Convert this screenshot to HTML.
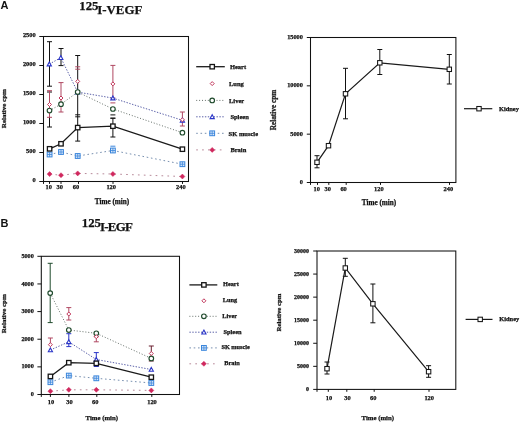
<!DOCTYPE html>
<html><head><meta charset="utf-8"><style>
html,body{margin:0;padding:0;background:#fff;}
body{width:520px;height:422px;overflow:hidden;}
svg{display:block;will-change:transform;}
text{font-family:"Liberation Serif",serif;font-weight:bold;fill:#111;stroke:#111;stroke-width:0.25;}
text.sans{font-family:"Liberation Sans",sans-serif;stroke-width:0;}
</style></head><body>
<svg width="520" height="422" viewBox="0 0 520 422">
<rect x="0" y="0" width="520" height="422" fill="#fff"/>
<rect x="43.5" y="36.5" width="145.00" height="145.00" fill="none" stroke="#111" stroke-width="1.05"/>
<line x1="39.3" y1="181.5" x2="43.5" y2="181.5" stroke="#111" stroke-width="1"/>
<text x="35.7" y="182.0" font-size="6.4" text-anchor="end">0</text>
<line x1="39.3" y1="152.5" x2="43.5" y2="152.5" stroke="#111" stroke-width="1"/>
<text x="35.7" y="153.0" font-size="6.4" text-anchor="end">500</text>
<line x1="39.3" y1="123.5" x2="43.5" y2="123.5" stroke="#111" stroke-width="1"/>
<text x="35.7" y="124.0" font-size="6.4" text-anchor="end">1000</text>
<line x1="39.3" y1="94.5" x2="43.5" y2="94.5" stroke="#111" stroke-width="1"/>
<text x="35.7" y="95.0" font-size="6.4" text-anchor="end">1500</text>
<line x1="39.3" y1="65.5" x2="43.5" y2="65.5" stroke="#111" stroke-width="1"/>
<text x="35.7" y="66.0" font-size="6.4" text-anchor="end">2000</text>
<line x1="39.3" y1="36.5" x2="43.5" y2="36.5" stroke="#111" stroke-width="1"/>
<text x="35.7" y="37.0" font-size="6.4" text-anchor="end">2500</text>
<line x1="49.5" y1="181.5" x2="49.5" y2="183.9" stroke="#111" stroke-width="1"/>
<text x="48.8" y="189.3" font-size="6.4" text-anchor="middle">10</text>
<line x1="61" y1="181.5" x2="61" y2="183.9" stroke="#111" stroke-width="1"/>
<text x="59.8" y="189.3" font-size="6.4" text-anchor="middle">30</text>
<line x1="78.5" y1="181.5" x2="78.5" y2="183.9" stroke="#111" stroke-width="1"/>
<text x="75.9" y="189.3" font-size="6.4" text-anchor="middle">60</text>
<line x1="113" y1="181.5" x2="113" y2="183.9" stroke="#111" stroke-width="1"/>
<text x="111.2" y="189.3" font-size="6.4" text-anchor="middle">120</text>
<line x1="182.5" y1="181.5" x2="182.5" y2="183.9" stroke="#111" stroke-width="1"/>
<text x="180.9" y="189.3" font-size="6.4" text-anchor="middle">240</text>
<line x1="43.5" y1="181.5" x2="43.5" y2="183.9" stroke="#111" stroke-width="1"/>
<text x="112" y="204.1" font-size="7.2" text-anchor="middle">Time (min)</text>
<text transform="translate(3.9,108.6) rotate(-90)" x="0" y="0" font-size="7" text-anchor="middle" dominant-baseline="central">Relative cpm</text>
<line x1="49.5" y1="41.7" x2="49.5" y2="86.2" stroke="#111" stroke-width="1"/>
<line x1="47.0" y1="41.7" x2="52.0" y2="41.7" stroke="#111" stroke-width="1"/>
<line x1="47.0" y1="86.2" x2="52.0" y2="86.2" stroke="#111" stroke-width="1"/>
<line x1="49.5" y1="92.0" x2="49.5" y2="127.0" stroke="#111" stroke-width="1"/>
<line x1="47.0" y1="92.0" x2="52.0" y2="92.0" stroke="#111" stroke-width="1"/>
<line x1="47.0" y1="127.0" x2="52.0" y2="127.0" stroke="#111" stroke-width="1"/>
<line x1="49.5" y1="90.7" x2="49.5" y2="117.3" stroke="#b04862" stroke-width="1"/>
<line x1="47.0" y1="90.7" x2="52.0" y2="90.7" stroke="#b04862" stroke-width="1"/>
<line x1="47.0" y1="117.3" x2="52.0" y2="117.3" stroke="#b04862" stroke-width="1"/>
<line x1="61.0" y1="48.5" x2="61.0" y2="65.6" stroke="#111" stroke-width="1"/>
<line x1="58.5" y1="48.5" x2="63.5" y2="48.5" stroke="#111" stroke-width="1"/>
<line x1="58.5" y1="65.6" x2="63.5" y2="65.6" stroke="#111" stroke-width="1"/>
<line x1="61.0" y1="82.6" x2="61.0" y2="112.0" stroke="#b04862" stroke-width="1"/>
<line x1="58.5" y1="82.6" x2="63.5" y2="82.6" stroke="#b04862" stroke-width="1"/>
<line x1="58.5" y1="112.0" x2="63.5" y2="112.0" stroke="#b04862" stroke-width="1"/>
<line x1="77.7" y1="55.5" x2="77.7" y2="141.1" stroke="#111" stroke-width="1"/>
<line x1="75.2" y1="55.5" x2="80.2" y2="55.5" stroke="#111" stroke-width="1"/>
<line x1="75.2" y1="141.1" x2="80.2" y2="141.1" stroke="#111" stroke-width="1"/>
<line x1="75.2" y1="66.8" x2="80.2" y2="66.8" stroke="#b04862" stroke-width="1"/>
<line x1="75.2" y1="69.2" x2="80.2" y2="69.2" stroke="#b04862" stroke-width="1"/>
<line x1="75.2" y1="114.8" x2="80.2" y2="114.8" stroke="#111" stroke-width="1"/>
<line x1="75.2" y1="116.8" x2="80.2" y2="116.8" stroke="#111" stroke-width="1"/>
<line x1="112.9" y1="65.4" x2="112.9" y2="98" stroke="#b04862" stroke-width="1"/>
<line x1="110.4" y1="65.4" x2="115.4" y2="65.4" stroke="#b04862" stroke-width="1"/>
<line x1="110.4" y1="98" x2="115.4" y2="98" stroke="#b04862" stroke-width="1"/>
<line x1="110.4" y1="102.9" x2="115.4" y2="102.9" stroke="#b04862" stroke-width="1"/>
<line x1="110.4" y1="114.9" x2="115.4" y2="114.9" stroke="#111" stroke-width="1"/>
<line x1="110.4" y1="118.2" x2="115.4" y2="118.2" stroke="#111" stroke-width="1"/>
<line x1="112.9" y1="118.2" x2="112.9" y2="137.0" stroke="#111" stroke-width="1"/>
<line x1="110.4" y1="118.2" x2="115.4" y2="118.2" stroke="#111" stroke-width="1"/>
<line x1="110.4" y1="137.0" x2="115.4" y2="137.0" stroke="#111" stroke-width="1"/>
<line x1="182.4" y1="112.0" x2="182.4" y2="126.0" stroke="#b04862" stroke-width="1"/>
<line x1="179.9" y1="112.0" x2="184.9" y2="112.0" stroke="#b04862" stroke-width="1"/>
<line x1="179.9" y1="126.0" x2="184.9" y2="126.0" stroke="#b04862" stroke-width="1"/>
<line x1="110.4" y1="146.2" x2="115.4" y2="146.2" stroke="#3a86dc" stroke-width="1"/>
<polyline points="49.6,174.1 61,175.2 77.7,173.4 112.9,174.0 182.4,176.5" fill="none" stroke="#b88a9a" stroke-width="1" stroke-dasharray="1.7 4.2"/>
<polyline points="49.6,154.5 61,152.0 77.7,156.0 112.9,150.5 182.4,164.2" fill="none" stroke="#7890b0" stroke-width="1" stroke-dasharray="1.6 2.7"/>
<polyline points="49.5,110.6 61,104.2 77.7,92.1 112.9,109.0 182.4,132.7" fill="none" stroke="#66706a" stroke-width="1" stroke-dasharray="1 1.9"/>
<polyline points="49.3,64.1 60.8,57.7 77.7,92.1 112.9,98.1 182.4,120.3" fill="none" stroke="#5a60a8" stroke-width="1" stroke-dasharray="1.4 1.5"/>
<polyline points="49.6,148.8 61,143.8 77.7,127.6 112.9,126.2 182.4,149.2" fill="none" stroke="#1a1a1a" stroke-width="1.3"/>
<polygon points="49.6,171.60 52.10,174.1 49.6,176.60 47.10,174.1" fill="#d0285e" stroke="#d0285e" stroke-width="0.5"/>
<polygon points="61,172.70 63.50,175.2 61,177.70 58.50,175.2" fill="#d0285e" stroke="#d0285e" stroke-width="0.5"/>
<polygon points="77.7,170.90 80.20,173.4 77.7,175.90 75.20,173.4" fill="#d0285e" stroke="#d0285e" stroke-width="0.5"/>
<polygon points="112.9,171.50 115.40,174.0 112.9,176.50 110.40,174.0" fill="#d0285e" stroke="#d0285e" stroke-width="0.5"/>
<polygon points="182.4,174.00 184.90,176.5 182.4,179.00 179.90,176.5" fill="#d0285e" stroke="#d0285e" stroke-width="0.5"/>
<rect x="47.20" y="152.10" width="4.80" height="4.80" fill="#dde8f8" stroke="#3a86dc" stroke-width="1"/>
<line x1="47.2" y1="154.5" x2="52.0" y2="154.5" stroke="#3a86dc" stroke-width="0.8"/>
<line x1="49.6" y1="152.1" x2="49.6" y2="156.9" stroke="#3a86dc" stroke-width="0.8"/>
<rect x="58.60" y="149.60" width="4.80" height="4.80" fill="#dde8f8" stroke="#3a86dc" stroke-width="1"/>
<line x1="58.6" y1="152.0" x2="63.4" y2="152.0" stroke="#3a86dc" stroke-width="0.8"/>
<line x1="61" y1="149.6" x2="61" y2="154.4" stroke="#3a86dc" stroke-width="0.8"/>
<rect x="75.30" y="153.60" width="4.80" height="4.80" fill="#dde8f8" stroke="#3a86dc" stroke-width="1"/>
<line x1="75.3" y1="156.0" x2="80.1" y2="156.0" stroke="#3a86dc" stroke-width="0.8"/>
<line x1="77.7" y1="153.6" x2="77.7" y2="158.4" stroke="#3a86dc" stroke-width="0.8"/>
<rect x="110.50" y="148.10" width="4.80" height="4.80" fill="#dde8f8" stroke="#3a86dc" stroke-width="1"/>
<line x1="110.5" y1="150.5" x2="115.3" y2="150.5" stroke="#3a86dc" stroke-width="0.8"/>
<line x1="112.9" y1="148.1" x2="112.9" y2="152.9" stroke="#3a86dc" stroke-width="0.8"/>
<rect x="180.00" y="161.80" width="4.80" height="4.80" fill="#dde8f8" stroke="#3a86dc" stroke-width="1"/>
<line x1="180.0" y1="164.2" x2="184.8" y2="164.2" stroke="#3a86dc" stroke-width="0.8"/>
<line x1="182.4" y1="161.8" x2="182.4" y2="166.6" stroke="#3a86dc" stroke-width="0.8"/>
<polygon points="49.3,62.00 51.40,65.88 47.20,65.88" fill="#fff" stroke="#2a35c8" stroke-width="1.1"/>
<polygon points="60.8,55.60 62.90,59.48 58.70,59.48" fill="#fff" stroke="#2a35c8" stroke-width="1.1"/>
<polygon points="77.7,90.00 79.80,93.88 75.60,93.88" fill="#fff" stroke="#2a35c8" stroke-width="1.1"/>
<polygon points="112.9,96.00 115.00,99.88 110.80,99.88" fill="#fff" stroke="#2a35c8" stroke-width="1.1"/>
<polygon points="182.4,118.20 184.50,122.08 180.30,122.08" fill="#fff" stroke="#2a35c8" stroke-width="1.1"/>
<circle cx="49.5" cy="110.6" r="2.30" fill="#fff" stroke="#1f4a2c" stroke-width="1.15"/>
<circle cx="61" cy="104.2" r="2.30" fill="#fff" stroke="#1f4a2c" stroke-width="1.15"/>
<circle cx="77.7" cy="92.1" r="2.30" fill="#fff" stroke="#1f4a2c" stroke-width="1.15"/>
<circle cx="112.9" cy="109.0" r="2.30" fill="#fff" stroke="#1f4a2c" stroke-width="1.15"/>
<circle cx="182.4" cy="132.7" r="2.30" fill="#fff" stroke="#1f4a2c" stroke-width="1.15"/>
<polygon points="49.5,102.50 51.50,104.5 49.5,106.50 47.50,104.5" fill="#fff" stroke="#c23a5e" stroke-width="1"/>
<polygon points="61,96.00 63.00,98.0 61,100.00 59.00,98.0" fill="#fff" stroke="#c23a5e" stroke-width="1"/>
<polygon points="77.7,79.40 79.70,81.4 77.7,83.40 75.70,81.4" fill="#fff" stroke="#c23a5e" stroke-width="1"/>
<polygon points="112.9,81.90 114.90,83.9 112.9,85.90 110.90,83.9" fill="#fff" stroke="#c23a5e" stroke-width="1"/>
<polygon points="182.4,117.80 184.40,119.8 182.4,121.80 180.40,119.8" fill="#fff" stroke="#c23a5e" stroke-width="1"/>
<rect x="47.40" y="146.60" width="4.40" height="4.40" fill="#fff" stroke="#151515" stroke-width="1.3"/>
<rect x="58.80" y="141.60" width="4.40" height="4.40" fill="#fff" stroke="#151515" stroke-width="1.3"/>
<rect x="75.50" y="125.40" width="4.40" height="4.40" fill="#fff" stroke="#151515" stroke-width="1.3"/>
<rect x="110.70" y="124.00" width="4.40" height="4.40" fill="#fff" stroke="#151515" stroke-width="1.3"/>
<rect x="180.20" y="147.00" width="4.40" height="4.40" fill="#fff" stroke="#151515" stroke-width="1.3"/>
<line x1="196.2" y1="66.7" x2="224.8" y2="66.7" stroke="#1a1a1a" stroke-width="1.3"/>
<rect x="210.00" y="64.50" width="4.40" height="4.40" fill="#fff" stroke="#151515" stroke-width="1.3"/>
<text x="229.9" y="69.05" font-size="6.5">Heart</text>
<polygon points="212.2,81.60 214.20,83.6 212.2,85.60 210.20,83.6" fill="#fff" stroke="#c23a5e" stroke-width="1"/>
<text x="229.0" y="85.95" font-size="6.5">Lung</text>
<line x1="196.2" y1="100.4" x2="224.8" y2="100.4" stroke="#66706a" stroke-width="1" stroke-dasharray="1 1.9"/>
<circle cx="212.2" cy="100.4" r="2.30" fill="#fff" stroke="#1f4a2c" stroke-width="1.15"/>
<text x="229.0" y="102.75" font-size="6.5">Liver</text>
<line x1="196.2" y1="116.8" x2="224.8" y2="116.8" stroke="#5a60a8" stroke-width="1" stroke-dasharray="1.4 1.5"/>
<polygon points="212.2,114.70 214.30,118.58 210.10,118.58" fill="#fff" stroke="#2a35c8" stroke-width="1.1"/>
<text x="230.4" y="119.15" font-size="6.5">Spleen</text>
<line x1="196.2" y1="133.3" x2="224.8" y2="133.3" stroke="#7890b0" stroke-width="1" stroke-dasharray="1.6 2.7"/>
<rect x="209.80" y="130.90" width="4.80" height="4.80" fill="#dde8f8" stroke="#3a86dc" stroke-width="1"/>
<line x1="209.8" y1="133.3" x2="214.6" y2="133.3" stroke="#3a86dc" stroke-width="0.8"/>
<line x1="212.2" y1="130.9" x2="212.2" y2="135.7" stroke="#3a86dc" stroke-width="0.8"/>
<text x="228.6" y="135.65" font-size="6.5">SK muscle</text>
<line x1="196.2" y1="149.9" x2="224.8" y2="149.9" stroke="#b88a9a" stroke-width="1" stroke-dasharray="1.7 4.2"/>
<polygon points="212.2,147.40 214.70,149.9 212.2,152.40 209.70,149.9" fill="#d0285e" stroke="#d0285e" stroke-width="0.5"/>
<text x="230.4" y="152.25" font-size="6.5">Brain</text>
<rect x="310.5" y="37.5" width="145.40" height="145.00" fill="none" stroke="#111" stroke-width="1.05"/>
<line x1="306.8" y1="182.5" x2="310.5" y2="182.5" stroke="#111" stroke-width="1"/>
<text x="302.9" y="184.1" font-size="6.3" text-anchor="end">0</text>
<line x1="306.8" y1="134.17" x2="310.5" y2="134.17" stroke="#111" stroke-width="1"/>
<text x="302.9" y="135.77" font-size="6.3" text-anchor="end">5000</text>
<line x1="306.8" y1="85.83" x2="310.5" y2="85.83" stroke="#111" stroke-width="1"/>
<text x="302.9" y="87.43" font-size="6.3" text-anchor="end">10000</text>
<line x1="306.8" y1="37.5" x2="310.5" y2="37.5" stroke="#111" stroke-width="1"/>
<text x="302.9" y="39.1" font-size="6.3" text-anchor="end">15000</text>
<line x1="317.5" y1="182.5" x2="317.5" y2="184.9" stroke="#111" stroke-width="1"/>
<text x="316.8" y="190.6" font-size="6.4" text-anchor="middle">10</text>
<line x1="328.8" y1="182.5" x2="328.8" y2="184.9" stroke="#111" stroke-width="1"/>
<text x="327.8" y="190.6" font-size="6.4" text-anchor="middle">30</text>
<line x1="346.2" y1="182.5" x2="346.2" y2="184.9" stroke="#111" stroke-width="1"/>
<text x="343.6" y="190.6" font-size="6.4" text-anchor="middle">60</text>
<line x1="380.5" y1="182.5" x2="380.5" y2="184.9" stroke="#111" stroke-width="1"/>
<text x="378.8" y="190.6" font-size="6.4" text-anchor="middle">120</text>
<line x1="449.5" y1="182.5" x2="449.5" y2="184.9" stroke="#111" stroke-width="1"/>
<text x="448.4" y="190.6" font-size="6.4" text-anchor="middle">240</text>
<line x1="310.5" y1="182.5" x2="310.5" y2="184.9" stroke="#111" stroke-width="1"/>
<text x="379" y="204.6" font-size="7.2" text-anchor="middle">Time (min)</text>
<text transform="translate(273.3,110) rotate(-90)" x="0" y="0" font-size="7.3" text-anchor="middle" dominant-baseline="central">Relative cpm</text>
<line x1="317" y1="155.7" x2="317" y2="167.8" stroke="#111" stroke-width="1"/>
<line x1="314.5" y1="155.7" x2="319.5" y2="155.7" stroke="#111" stroke-width="1"/>
<line x1="314.5" y1="167.8" x2="319.5" y2="167.8" stroke="#111" stroke-width="1"/>
<line x1="345.5" y1="68.3" x2="345.5" y2="118.8" stroke="#111" stroke-width="1"/>
<line x1="343.0" y1="68.3" x2="348.0" y2="68.3" stroke="#111" stroke-width="1"/>
<line x1="343.0" y1="118.8" x2="348.0" y2="118.8" stroke="#111" stroke-width="1"/>
<line x1="379.8" y1="49.5" x2="379.8" y2="74.5" stroke="#111" stroke-width="1"/>
<line x1="377.3" y1="49.5" x2="382.3" y2="49.5" stroke="#111" stroke-width="1"/>
<line x1="377.3" y1="74.5" x2="382.3" y2="74.5" stroke="#111" stroke-width="1"/>
<line x1="449.3" y1="54.5" x2="449.3" y2="84.0" stroke="#111" stroke-width="1"/>
<line x1="446.8" y1="54.5" x2="451.8" y2="54.5" stroke="#111" stroke-width="1"/>
<line x1="446.8" y1="84.0" x2="451.8" y2="84.0" stroke="#111" stroke-width="1"/>
<polyline points="317,162.3 328.5,145.7 345.5,93.8 379.8,62.8 449.3,69.3" fill="none" stroke="#1a1a1a" stroke-width="1.2"/>
<rect x="314.80" y="160.10" width="4.40" height="4.40" fill="#fff" stroke="#151515" stroke-width="1.05"/>
<rect x="326.30" y="143.50" width="4.40" height="4.40" fill="#fff" stroke="#151515" stroke-width="1.05"/>
<rect x="343.30" y="91.60" width="4.40" height="4.40" fill="#fff" stroke="#151515" stroke-width="1.05"/>
<rect x="377.60" y="60.60" width="4.40" height="4.40" fill="#fff" stroke="#151515" stroke-width="1.05"/>
<rect x="447.10" y="67.10" width="4.40" height="4.40" fill="#fff" stroke="#151515" stroke-width="1.05"/>
<line x1="464.0" y1="108.7" x2="492.3" y2="108.7" stroke="#1a1a1a" stroke-width="1.2"/>
<rect x="476.80" y="106.50" width="4.40" height="4.40" fill="#fff" stroke="#151515" stroke-width="1.05"/>
<text x="499.0" y="110.6" font-size="6.4">Kidney</text>
<rect x="41.3" y="256.3" width="138.20" height="138.20" fill="none" stroke="#111" stroke-width="1.05"/>
<line x1="37.4" y1="394.5" x2="41.3" y2="394.5" stroke="#111" stroke-width="1"/>
<text x="33.8" y="396.1" font-size="6.2" text-anchor="end">0</text>
<line x1="37.4" y1="366.86" x2="41.3" y2="366.86" stroke="#111" stroke-width="1"/>
<text x="33.8" y="368.46" font-size="6.2" text-anchor="end">1000</text>
<line x1="37.4" y1="339.22" x2="41.3" y2="339.22" stroke="#111" stroke-width="1"/>
<text x="33.8" y="340.82" font-size="6.2" text-anchor="end">2000</text>
<line x1="37.4" y1="311.58" x2="41.3" y2="311.58" stroke="#111" stroke-width="1"/>
<text x="33.8" y="313.18" font-size="6.2" text-anchor="end">3000</text>
<line x1="37.4" y1="283.94" x2="41.3" y2="283.94" stroke="#111" stroke-width="1"/>
<text x="33.8" y="285.54" font-size="6.2" text-anchor="end">4000</text>
<line x1="37.4" y1="256.3" x2="41.3" y2="256.3" stroke="#111" stroke-width="1"/>
<text x="33.8" y="257.9" font-size="6.2" text-anchor="end">5000</text>
<line x1="50.4" y1="394.5" x2="50.4" y2="396.9" stroke="#111" stroke-width="1"/>
<text x="51.0" y="404.3" font-size="6.4" text-anchor="middle">10</text>
<line x1="68.9" y1="394.5" x2="68.9" y2="396.9" stroke="#111" stroke-width="1"/>
<text x="69.5" y="404.3" font-size="6.4" text-anchor="middle">30</text>
<line x1="96.8" y1="394.5" x2="96.8" y2="396.9" stroke="#111" stroke-width="1"/>
<text x="95.3" y="404.3" font-size="6.4" text-anchor="middle">60</text>
<line x1="151.8" y1="394.5" x2="151.8" y2="396.9" stroke="#111" stroke-width="1"/>
<text x="152.0" y="404.3" font-size="6.4" text-anchor="middle">120</text>
<line x1="41.3" y1="394.5" x2="41.3" y2="396.9" stroke="#111" stroke-width="1"/>
<text x="101.8" y="420.0" font-size="6.8" text-anchor="middle">Time (min)</text>
<text transform="translate(3.5,313.7) rotate(-90)" x="0" y="0" font-size="7" text-anchor="middle" dominant-baseline="central">Relative cpm</text>
<line x1="50.2" y1="263.3" x2="50.2" y2="322.6" stroke="#1f4a2c" stroke-width="1"/>
<line x1="47.7" y1="263.3" x2="52.7" y2="263.3" stroke="#1f4a2c" stroke-width="1"/>
<line x1="47.7" y1="322.6" x2="52.7" y2="322.6" stroke="#1f4a2c" stroke-width="1"/>
<line x1="50.4" y1="338.0" x2="50.4" y2="344.7" stroke="#b04862" stroke-width="1"/>
<line x1="47.9" y1="338.0" x2="52.9" y2="338.0" stroke="#b04862" stroke-width="1"/>
<line x1="68.8" y1="307.6" x2="68.8" y2="320.0" stroke="#b04862" stroke-width="1"/>
<line x1="66.3" y1="307.6" x2="71.3" y2="307.6" stroke="#b04862" stroke-width="1"/>
<line x1="66.3" y1="320.0" x2="71.3" y2="320.0" stroke="#b04862" stroke-width="1"/>
<line x1="68.8" y1="333.7" x2="68.8" y2="346.6" stroke="#2a35c8" stroke-width="1"/>
<line x1="66.3" y1="333.7" x2="71.3" y2="333.7" stroke="#2a35c8" stroke-width="1"/>
<line x1="66.3" y1="346.6" x2="71.3" y2="346.6" stroke="#2a35c8" stroke-width="1"/>
<line x1="96.3" y1="336.7" x2="96.3" y2="341.8" stroke="#b04862" stroke-width="1"/>
<line x1="93.8" y1="336.7" x2="98.8" y2="336.7" stroke="#b04862" stroke-width="1"/>
<line x1="93.8" y1="341.8" x2="98.8" y2="341.8" stroke="#b04862" stroke-width="1"/>
<line x1="96.3" y1="352.6" x2="96.3" y2="366.5" stroke="#2a35c8" stroke-width="1"/>
<line x1="93.8" y1="352.6" x2="98.8" y2="352.6" stroke="#2a35c8" stroke-width="1"/>
<line x1="93.8" y1="366.5" x2="98.8" y2="366.5" stroke="#2a35c8" stroke-width="1"/>
<line x1="151.3" y1="346.0" x2="151.3" y2="361.0" stroke="#6a2030" stroke-width="1"/>
<line x1="148.8" y1="346.0" x2="153.8" y2="346.0" stroke="#6a2030" stroke-width="1"/>
<line x1="148.8" y1="361.0" x2="153.8" y2="361.0" stroke="#6a2030" stroke-width="1"/>
<polyline points="50.4,391.2 68.8,389.8 96.3,389.8 151.3,390.4" fill="none" stroke="#b88a9a" stroke-width="1" stroke-dasharray="1.7 4.2"/>
<polyline points="50.4,382.2 68.8,375.6 96.3,378.3 151.3,383.0" fill="none" stroke="#7890b0" stroke-width="1" stroke-dasharray="1.6 2.7"/>
<polyline points="50.2,293.1 68.8,330.0 96.3,333.3 151.3,358.4" fill="none" stroke="#66706a" stroke-width="1" stroke-dasharray="1 1.9"/>
<polyline points="50.4,350.0 68.8,341.8 96.3,359.5 151.3,369.5" fill="none" stroke="#5a60a8" stroke-width="1" stroke-dasharray="1.4 1.5"/>
<polyline points="50.4,376.4 68.8,362.7 96.3,363.3 151.3,377.2" fill="none" stroke="#1a1a1a" stroke-width="1.3"/>
<polygon points="50.4,388.70 52.90,391.2 50.4,393.70 47.90,391.2" fill="#d0285e" stroke="#d0285e" stroke-width="0.5"/>
<polygon points="68.8,387.30 71.30,389.8 68.8,392.30 66.30,389.8" fill="#d0285e" stroke="#d0285e" stroke-width="0.5"/>
<polygon points="96.3,387.30 98.80,389.8 96.3,392.30 93.80,389.8" fill="#d0285e" stroke="#d0285e" stroke-width="0.5"/>
<polygon points="151.3,387.90 153.80,390.4 151.3,392.90 148.80,390.4" fill="#d0285e" stroke="#d0285e" stroke-width="0.5"/>
<rect x="48.00" y="379.80" width="4.80" height="4.80" fill="#dde8f8" stroke="#3a86dc" stroke-width="1"/>
<line x1="48.0" y1="382.2" x2="52.8" y2="382.2" stroke="#3a86dc" stroke-width="0.8"/>
<line x1="50.4" y1="379.8" x2="50.4" y2="384.6" stroke="#3a86dc" stroke-width="0.8"/>
<rect x="66.40" y="373.20" width="4.80" height="4.80" fill="#dde8f8" stroke="#3a86dc" stroke-width="1"/>
<line x1="66.4" y1="375.6" x2="71.2" y2="375.6" stroke="#3a86dc" stroke-width="0.8"/>
<line x1="68.8" y1="373.2" x2="68.8" y2="378.0" stroke="#3a86dc" stroke-width="0.8"/>
<rect x="93.90" y="375.90" width="4.80" height="4.80" fill="#dde8f8" stroke="#3a86dc" stroke-width="1"/>
<line x1="93.9" y1="378.3" x2="98.7" y2="378.3" stroke="#3a86dc" stroke-width="0.8"/>
<line x1="96.3" y1="375.9" x2="96.3" y2="380.7" stroke="#3a86dc" stroke-width="0.8"/>
<rect x="148.90" y="380.60" width="4.80" height="4.80" fill="#dde8f8" stroke="#3a86dc" stroke-width="1"/>
<line x1="148.9" y1="383.0" x2="153.7" y2="383.0" stroke="#3a86dc" stroke-width="0.8"/>
<line x1="151.3" y1="380.6" x2="151.3" y2="385.4" stroke="#3a86dc" stroke-width="0.8"/>
<circle cx="50.2" cy="293.1" r="2.30" fill="#fff" stroke="#1f4a2c" stroke-width="1.15"/>
<circle cx="68.8" cy="330.0" r="2.30" fill="#fff" stroke="#1f4a2c" stroke-width="1.15"/>
<circle cx="96.3" cy="333.3" r="2.30" fill="#fff" stroke="#1f4a2c" stroke-width="1.15"/>
<circle cx="151.3" cy="358.4" r="2.30" fill="#fff" stroke="#1f4a2c" stroke-width="1.15"/>
<polygon points="50.4,347.90 52.50,351.79 48.30,351.79" fill="#fff" stroke="#2a35c8" stroke-width="1.1"/>
<polygon points="68.8,339.70 70.90,343.59 66.70,343.59" fill="#fff" stroke="#2a35c8" stroke-width="1.1"/>
<polygon points="96.3,357.40 98.40,361.29 94.20,361.29" fill="#fff" stroke="#2a35c8" stroke-width="1.1"/>
<polygon points="151.3,367.40 153.40,371.29 149.20,371.29" fill="#fff" stroke="#2a35c8" stroke-width="1.1"/>
<polygon points="50.4,342.70 52.40,344.7 50.4,346.70 48.40,344.7" fill="#fff" stroke="#c23a5e" stroke-width="1"/>
<polygon points="68.8,312.00 70.80,314.0 68.8,316.00 66.80,314.0" fill="#fff" stroke="#c23a5e" stroke-width="1"/>
<polygon points="96.3,334.70 98.30,336.7 96.3,338.70 94.30,336.7" fill="#fff" stroke="#c23a5e" stroke-width="1"/>
<polygon points="151.3,351.50 153.30,353.5 151.3,355.50 149.30,353.5" fill="#fff" stroke="#c23a5e" stroke-width="1"/>
<rect x="48.20" y="374.20" width="4.40" height="4.40" fill="#fff" stroke="#151515" stroke-width="1.3"/>
<rect x="66.60" y="360.50" width="4.40" height="4.40" fill="#fff" stroke="#151515" stroke-width="1.3"/>
<rect x="94.10" y="361.10" width="4.40" height="4.40" fill="#fff" stroke="#151515" stroke-width="1.3"/>
<rect x="149.10" y="375.00" width="4.40" height="4.40" fill="#fff" stroke="#151515" stroke-width="1.3"/>
<line x1="189.4" y1="284.9" x2="217.3" y2="284.9" stroke="#1a1a1a" stroke-width="1.3"/>
<rect x="201.70" y="282.70" width="4.40" height="4.40" fill="#fff" stroke="#151515" stroke-width="1.3"/>
<text x="223.0" y="286.35" font-size="6.3">Heart</text>
<polygon points="203.9,298.80 205.90,300.8 203.9,302.80 201.90,300.8" fill="#fff" stroke="#c23a5e" stroke-width="1"/>
<text x="222.7" y="302.25" font-size="6.3">Lung</text>
<line x1="189.4" y1="316.3" x2="217.3" y2="316.3" stroke="#66706a" stroke-width="1" stroke-dasharray="1 1.9"/>
<circle cx="203.9" cy="316.3" r="2.30" fill="#fff" stroke="#1f4a2c" stroke-width="1.15"/>
<text x="222.3" y="317.75" font-size="6.3">Liver</text>
<line x1="189.4" y1="332.2" x2="217.3" y2="332.2" stroke="#5a60a8" stroke-width="1" stroke-dasharray="1.4 1.5"/>
<polygon points="203.9,330.10 206.00,333.99 201.80,333.99" fill="#fff" stroke="#2a35c8" stroke-width="1.1"/>
<text x="223.6" y="333.65" font-size="6.3">Spleen</text>
<line x1="189.4" y1="347.9" x2="217.3" y2="347.9" stroke="#7890b0" stroke-width="1" stroke-dasharray="1.6 2.7"/>
<rect x="201.50" y="345.50" width="4.80" height="4.80" fill="#dde8f8" stroke="#3a86dc" stroke-width="1"/>
<line x1="201.5" y1="347.9" x2="206.3" y2="347.9" stroke="#3a86dc" stroke-width="0.8"/>
<line x1="203.9" y1="345.5" x2="203.9" y2="350.3" stroke="#3a86dc" stroke-width="0.8"/>
<text x="221.4" y="349.35" font-size="6.3">SK muscle</text>
<line x1="189.4" y1="363.8" x2="217.3" y2="363.8" stroke="#b88a9a" stroke-width="1" stroke-dasharray="1.7 4.2"/>
<polygon points="203.9,361.30 206.40,363.8 203.9,366.30 201.40,363.8" fill="#d0285e" stroke="#d0285e" stroke-width="0.5"/>
<text x="224.3" y="365.25" font-size="6.3">Brain</text>
<rect x="317.0" y="251.0" width="138.80" height="138.40" fill="none" stroke="#111" stroke-width="1.05"/>
<line x1="313.2" y1="389.4" x2="317.0" y2="389.4" stroke="#111" stroke-width="1"/>
<text x="308.9" y="391.4" font-size="6.0" text-anchor="end">0</text>
<line x1="313.2" y1="366.33" x2="317.0" y2="366.33" stroke="#111" stroke-width="1"/>
<text x="308.9" y="368.33" font-size="6.0" text-anchor="end">5000</text>
<line x1="313.2" y1="343.27" x2="317.0" y2="343.27" stroke="#111" stroke-width="1"/>
<text x="308.9" y="345.27" font-size="6.0" text-anchor="end">10000</text>
<line x1="313.2" y1="320.2" x2="317.0" y2="320.2" stroke="#111" stroke-width="1"/>
<text x="308.9" y="322.2" font-size="6.0" text-anchor="end">15000</text>
<line x1="313.2" y1="297.13" x2="317.0" y2="297.13" stroke="#111" stroke-width="1"/>
<text x="308.9" y="299.13" font-size="6.0" text-anchor="end">20000</text>
<line x1="313.2" y1="274.07" x2="317.0" y2="274.07" stroke="#111" stroke-width="1"/>
<text x="308.9" y="276.07" font-size="6.0" text-anchor="end">25000</text>
<line x1="313.2" y1="251.0" x2="317.0" y2="251.0" stroke="#111" stroke-width="1"/>
<text x="308.9" y="253.0" font-size="6.0" text-anchor="end">30000</text>
<line x1="328.3" y1="389.4" x2="328.3" y2="391.79999999999995" stroke="#111" stroke-width="1"/>
<text x="328.9" y="399.9" font-size="6.4" text-anchor="middle">10</text>
<line x1="346.8" y1="389.4" x2="346.8" y2="391.79999999999995" stroke="#111" stroke-width="1"/>
<text x="347.4" y="399.9" font-size="6.4" text-anchor="middle">30</text>
<line x1="374.2" y1="389.4" x2="374.2" y2="391.79999999999995" stroke="#111" stroke-width="1"/>
<text x="373.2" y="399.9" font-size="6.4" text-anchor="middle">60</text>
<line x1="429.0" y1="389.4" x2="429.0" y2="391.79999999999995" stroke="#111" stroke-width="1"/>
<text x="429.2" y="399.9" font-size="6.4" text-anchor="middle">120</text>
<line x1="317.0" y1="389.4" x2="317.0" y2="391.79999999999995" stroke="#111" stroke-width="1"/>
<text x="377.8" y="420.0" font-size="6.8" text-anchor="middle">Time (min)</text>
<text transform="translate(278.1,312.5) rotate(-90)" x="0" y="0" font-size="6.8" text-anchor="middle" dominant-baseline="central">Relative cpm</text>
<line x1="327" y1="362.0" x2="327" y2="374.0" stroke="#111" stroke-width="1"/>
<line x1="324.5" y1="362.0" x2="329.5" y2="362.0" stroke="#111" stroke-width="1"/>
<line x1="324.5" y1="374.0" x2="329.5" y2="374.0" stroke="#111" stroke-width="1"/>
<line x1="345.3" y1="258.3" x2="345.3" y2="276.3" stroke="#111" stroke-width="1"/>
<line x1="342.8" y1="258.3" x2="347.8" y2="258.3" stroke="#111" stroke-width="1"/>
<line x1="342.8" y1="276.3" x2="347.8" y2="276.3" stroke="#111" stroke-width="1"/>
<line x1="372.9" y1="284.0" x2="372.9" y2="322.8" stroke="#111" stroke-width="1"/>
<line x1="370.4" y1="284.0" x2="375.4" y2="284.0" stroke="#111" stroke-width="1"/>
<line x1="370.4" y1="322.8" x2="375.4" y2="322.8" stroke="#111" stroke-width="1"/>
<line x1="428.6" y1="365.7" x2="428.6" y2="377.3" stroke="#111" stroke-width="1"/>
<line x1="426.1" y1="365.7" x2="431.1" y2="365.7" stroke="#111" stroke-width="1"/>
<line x1="426.1" y1="377.3" x2="431.1" y2="377.3" stroke="#111" stroke-width="1"/>
<polyline points="327,368.7 345.3,268.0 372.9,303.8 428.6,371.7" fill="none" stroke="#1a1a1a" stroke-width="1.2"/>
<rect x="324.80" y="366.50" width="4.40" height="4.40" fill="#fff" stroke="#151515" stroke-width="1.05"/>
<rect x="343.10" y="265.80" width="4.40" height="4.40" fill="#fff" stroke="#151515" stroke-width="1.05"/>
<rect x="370.70" y="301.60" width="4.40" height="4.40" fill="#fff" stroke="#151515" stroke-width="1.05"/>
<rect x="426.40" y="369.50" width="4.40" height="4.40" fill="#fff" stroke="#151515" stroke-width="1.05"/>
<line x1="465.6" y1="319.4" x2="492.5" y2="319.4" stroke="#1a1a1a" stroke-width="1.2"/>
<rect x="478.00" y="317.20" width="4.40" height="4.40" fill="#fff" stroke="#151515" stroke-width="1.05"/>
<text x="499.3" y="321.3" font-size="6.4">Kidney</text>
<text class="sans" x="0.6" y="8.6" font-size="11">A</text>
<text class="sans" x="0.6" y="226.7" font-size="11">B</text>
<text x="79.3" y="9.9" font-size="12.8">125</text>
<text x="97.2" y="13.5" font-size="12.9">I-VEGF</text>
<text x="81.8" y="227.2" font-size="12.8">125</text>
<text x="100.0" y="230.8" font-size="12.9" letter-spacing="-0.75">I-EGF</text>
</svg>
</body></html>
